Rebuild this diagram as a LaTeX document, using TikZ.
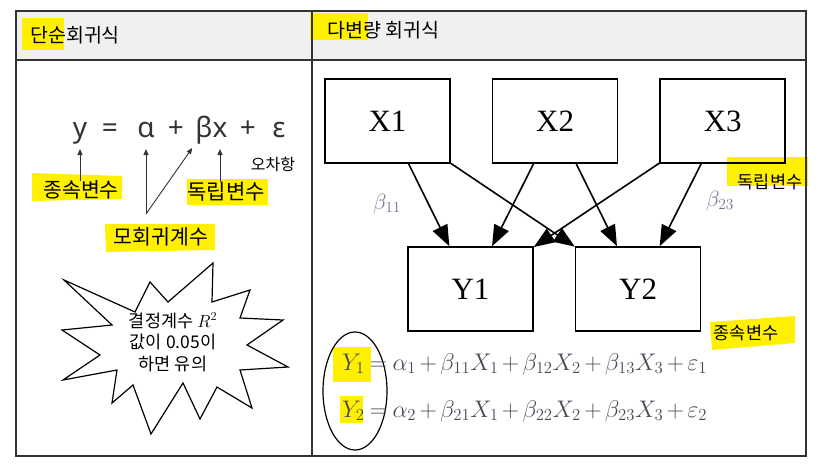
\RequirePackage{fix-cm}
\documentclass[tikz,border=0pt]{standalone}
\usepackage{fontspec}
\usepackage{tikz}
\usetikzlibrary{arrows.meta, positioning}
\setmainfont{Liberation Serif}
\newfontfamily\kr{Noto Sans CJK KR}
\newfontfamily\eqsans{Noto Sans}
\definecolor{marker}{RGB}{255,240,0}
\definecolor{header}{RGB}{240,240,240}
\definecolor{frame}{RGB}{50,50,50}
\definecolor{formula}{RGB}{75,75,88}
\definecolor{coef}{RGB}{110,115,145}

\begin{document}
\begin{tikzpicture}
  [x=1pt, y=-1pt,
  varbox/.style={rectangle, draw=black, line width=1.6pt, minimum width=125pt, minimum height=84pt, inner sep=0pt, font=\fontsize{31}{36}\selectfont},
  effect/.style={line width=1.6pt, -{Triangle[length=21pt,width=16pt]}},
  pointer/.style={line width=0.9pt, draw=black!80, -{Triangle[length=6pt,width=5pt]}},
  hangul/.style={font=\kr\fontsize{#1}{#1}\selectfont, inner sep=0pt},
  glyph/.style={font=\eqsans\fontsize{28}{30}\selectfont, anchor=base, inner sep=0pt, text=black!80}]
  \useasboundingbox (0,0) rectangle (828,464);

  % table
  \fill[header] (16,11) rectangle (806,60);
  % highlighter marks
  \fill[marker] (22,18) rectangle (64,50);
  \fill[marker] (310,13) rectangle (368,40);
  \fill[marker] (32,173) -- (122,176) -- (122,199) -- (32,201) -- cycle;
  \fill[marker] (187,179) rectangle (268,205);
  \fill[marker] (105,224) -- (215,224) -- (215,250) -- (106,252) -- cycle;
  \fill[marker] (727,157) rectangle (808,186);
  \fill[marker] (710,322) -- (795,316) -- (795,343) -- (712,350) -- cycle;
  \fill[marker] (333,347) rectangle (371,382);
  \fill[marker] (340,396) rectangle (363,423);
  \draw[frame, line width=1.5pt] (16,11) rectangle (806,456);
  \draw[frame, line width=1.5pt] (16,60) -- (806,60);
  \draw[frame, line width=1.5pt] (312,11) -- (312,456);
  \node[hangul=19.5, anchor=west] (simple) at (30,35) {단순회귀식};
  \node[hangul=19.5, anchor=west] (multi) at (327,30) {다변량 회귀식};

  % simple regression
  \node[glyph] (y) at (80,137) {y};
  \node[glyph] (eq) at (110,137) {=};
  \node[glyph] (alpha) at (146,137) {α};
  \node[glyph] (plus a) at (176,137) {+};
  \node[glyph] (beta) at (204,137) {β};
  \node[glyph] (x) at (220,137) {x};
  \node[glyph] (plus b) at (248,137) {+};
  \node[glyph] (eps) at (279,137) {ε};
  \node[hangul=20.5] (dep) at (81,190) {종속변수};
  \node[hangul=21] (indep) at (226,192) {독립변수};
  \node[hangul=16] (error) at (273,164) {오차항};
  \node[hangul=20.5] (coeff) at (161,237) {모회귀계수};
  \coordinate (fork) at (146,214);
  \draw[pointer] (dep.north -| y.base) -- ([yshift=-12pt]y.base);
  \draw[pointer] (fork) -- ([yshift=-12pt]alpha.base);
  \draw[pointer] (fork) -- ([xshift=-3pt,yshift=-11pt]beta.base west);
  \draw[pointer] (indep.north -| x.base) -- ([yshift=-12pt]x.base);

  \draw[line width=1.2pt] (64,280) -- (135,312) -- (150,282) -- (168,302) -- (213,263) -- (212,302)
    -- (250,290) -- (240,318) -- (283,320) -- (247,345) -- (288,367) -- (240,370) -- (252,408)
    -- (217,387) -- (200,419) -- (183,383) -- (151,434) -- (133,385) -- (112,403) -- (117,370)
    -- (63,380) -- (100,355) -- (62,330) -- (112,325) -- cycle;
  \node[font=\kr\fontsize{17.5}{21.5}\selectfont, align=center, inner sep=0pt] (rsq) at (173,342) {결정계수 $R^2$\\값이 0.05이\\하면 유의};

  % multivariate regression
  \node[varbox] (x1) at (387.5,121) {X1};
  \node[varbox, right=41pt of x1] (x2) {X2};
  \node[varbox, right=41pt of x2] (x3) {X3};
  \node[varbox] (y1) at (470.5,289) {Y1};
  \node[varbox, right=41pt of y1] (y2) {Y2};
  \draw[effect] (x1) -- (y1);
  \draw[effect] (x1) -- (y2);
  \draw[effect] (x2) -- (y1);
  \draw[effect] (x2) -- (y2);
  \draw[effect] (x3) -- (y1);
  \draw[effect] (x3) -- (y2);
  \node[text=coef, font=\fontsize{22}{24}\selectfont] (b11) at (387,204) {$\beta_{11}$};
  \node[text=coef, font=\fontsize{22}{24}\selectfont] (b23) at (720,201) {$\beta_{23}$};
  \node[hangul=17.5] (indep r) at (770,182) {독립변수};
  \node[hangul=17.5] (dep r) at (746,333) {종속변수};

  \draw[line width=1.2pt] (355,391) ellipse [x radius=32pt, y radius=59pt];
  \node[anchor=base west, text=formula, inner sep=0pt, font=\fontsize{24}{28}\selectfont] (eq y1) at (342,370)
    {$\medmuskip=2.5mu \thickmuskip=4mu Y_1 = \alpha_1 + \beta_{11}X_1 + \beta_{12}X_2 + \beta_{13}X_3 + \varepsilon_1$};
  \node[anchor=base west, text=formula, inner sep=0pt, font=\fontsize{24}{28}\selectfont] (eq y2) at (342,417)
    {$\medmuskip=2.5mu \thickmuskip=4mu Y_2 = \alpha_2 + \beta_{21}X_1 + \beta_{22}X_2 + \beta_{23}X_3 + \varepsilon_2$};
\end{tikzpicture}
\end{document}
